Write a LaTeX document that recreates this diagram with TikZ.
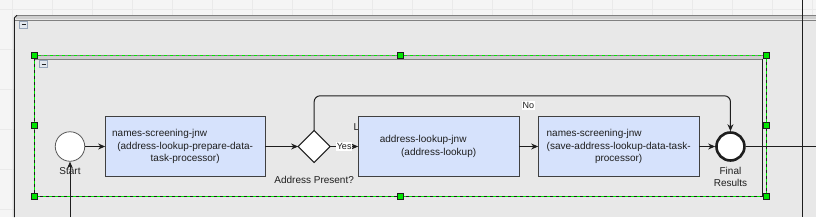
\documentclass[tikz,border=0pt]{standalone}
\usepackage{fontspec}
\setmainfont{Liberation Sans}
\usepackage{xcolor}
\usetikzlibrary{positioning, arrows.meta, shapes.geometric}
\definecolor{ink}{RGB}{30,30,30}
\definecolor{bg}{RGB}{245,245,245}
\definecolor{gridline}{RGB}{234,234,234}
\definecolor{pool}{RGB}{232,232,232}
\definecolor{headdark}{RGB}{128,128,128}
\definecolor{headband}{RGB}{206,206,206}
\definecolor{taskblue}{RGB}{214,226,252}
\definecolor{taskline}{RGB}{64,64,64}
\definecolor{evline}{RGB}{90,90,90}
\definecolor{selgreen}{RGB}{0,230,0}
\definecolor{btnline}{RGB}{150,165,185}
\definecolor{btnfill}{RGB}{226,231,238}

\begin{document}
\begin{tikzpicture}[x=1pt, y=-1pt,
    task/.style={draw=taskline, fill=taskblue, line width=1pt, minimum width=160pt,
                 minimum height=60pt, outer sep=0pt, inner sep=2pt, align=center,
                 font=\fontsize{10}{12.5}\selectfont, text=ink},
    gate/.style={diamond, draw=ink, fill=white, line width=1pt, minimum width=32pt,
                 minimum height=32pt, inner sep=0pt, outer sep=0pt},
    startev/.style={circle, draw=evline, fill=white, line width=0.8pt, minimum size=29.5pt, inner sep=0pt},
    endev/.style={circle, draw=ink, fill=white, line width=2.6pt, minimum size=28pt, inner sep=0pt},
    flow/.style={-{Stealth[length=7pt, width=6pt]}, draw=ink, line width=1pt},
    lbl/.style={fill=white, inner xsep=1pt, inner ysep=1.2pt, font=\fontsize{9}{10}\selectfont, text=ink},
    txt/.style={inner sep=0pt, align=center, font=\fontsize{10}{12}\selectfont, text=ink},
    handle/.style={draw=ink, fill=selgreen, line width=0.8pt, minimum size=6pt, inner sep=0pt},
    btn/.style={draw=btnline, fill=btnfill, line width=0.7pt}
  ]
  \useasboundingbox (0,0) rectangle (816,217);
  % backdrop
  \fill[bg] (0,0) rectangle (816,217);
  \foreach \gx in {12,52,...,812} \draw[gridline, line width=0.8pt] (\gx,0) -- (\gx,217);
  \foreach \gy in {9,49,...,209} \draw[gridline, line width=0.8pt] (0,\gy) -- (816,\gy);
  % pool
  \fill[pool] (14,15) rectangle (816,217);
  \fill[headband] (16,16) rectangle (816,19.2);
  \draw[headdark, line width=1.4pt] (16,15.4) -- (816,15.4);
  \draw[headdark, line width=1.2pt] (15,20.2) -- (816,20.2);
  \draw[ink, line width=0.9pt] (14.3,217) -- (14.3,18) -- (17,15.3);
  % sub-process
  \draw[ink, line width=0.8pt] (34.5,55.3) rectangle (766.3,196.5);
  \fill[headband] (35,56) rectangle (763,58.8);
  \draw[headdark, line width=1.2pt] (34.5,55.3) -- (766.3,55.3);
  \draw[headdark, line width=1.2pt] (35,59.5) -- (763,59.5);
  \draw[ink, line width=0.8pt] (762.8,58.5) -- (762.8,196.5);
  \draw[selgreen, line width=0.9pt, dash pattern=on 3pt off 3pt] (34.5,55.3) rectangle (766.3,196.5);
  \foreach \bx/\by in {19.3/21, 39.3/60.3} {
    \draw[btn] (\bx,\by) rectangle ++(8.4,7.4);
    \draw[ink, line width=1.1pt] (\bx+2.2,\by+3.8) -- ++(4,0);
  }
  \foreach \hx/\hy [count=\i] in {34.5/55.3, 400.5/55.3, 766.3/55.3, 34.5/125.5,
                                  766.3/125.5, 34.5/196.5, 400.5/196.5, 766.3/196.5}
    \node[handle] (h\i) at (\hx,\hy) {};
  \draw[ink, line width=0.9pt] (802.5,0) -- (802.5,217);

  % flow
  \node[startev] (start) at (70,146.5) {};
  \node[txt, below=6pt of start] (startlbl) {Start};
  \node[task, right=20pt of start] (prep) {names-screening-jnw\hspace*{51pt}\\(address-lookup-prepare-data-\\task-processor)};
  \node[gate, right=33pt of prep] (addr) {};
  \node[txt, below=13.4pt of addr] (addrlbl) {Address Present?};
  \node[txt, anchor=base west] (stray) at (353.3,130.3) {L};
  \node[task, minimum width=161pt, right=28pt of addr] (lookup) {address-lookup-jnw\hspace*{31pt}\\(address-lookup)};
  \node[task, minimum width=161pt, right=19pt of lookup] (save) {names-screening-jnw\hspace*{49pt}\\(save-address-lookup-data-task-\\processor)};
  \node[endev, right=16pt of save] (final) {};
  \node[txt, below=5.5pt of final] (finallbl) {Final\\Results};
  \coordinate (src) at (70,217);
  \coordinate (exit) at (816,146.5);

  \draw[flow] (start) -- (prep);
  \draw[flow] (prep) -- (addr);
  \draw[flow] (addr) -- node[lbl] (yeslbl) {Yes} (lookup);
  \draw[flow] (lookup) -- (save);
  \draw[flow] (save) -- (final);
  \draw[flow, rounded corners=6pt] (addr.north) -- ++(0,-34.7) -| (final.north);
  \node[lbl] (nolbl) at (528.3,105.8) {No};
  \draw[ink, line width=1pt] (final) -- (exit);
  \draw[flow] (src) -- (start);
\end{tikzpicture}
\end{document}
